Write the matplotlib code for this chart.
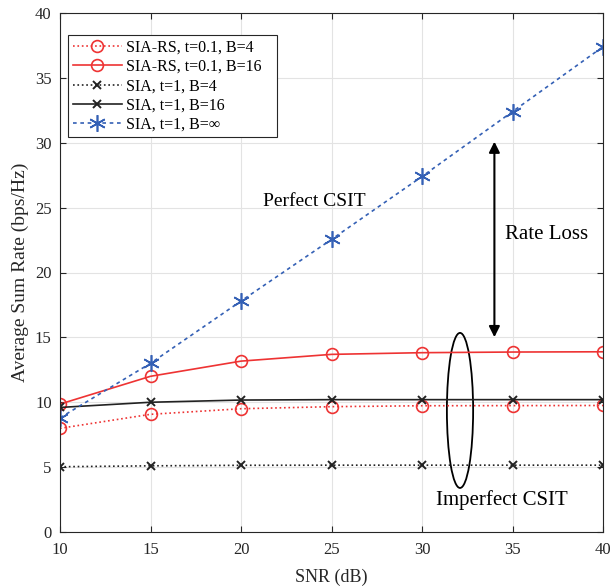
import matplotlib
matplotlib.use("Agg")
import matplotlib.pyplot as plt
from matplotlib.patches import Ellipse
import numpy as np

plt.rcParams['font.family'] = ['Liberation Serif', 'DejaVu Serif']

snr = [10, 15, 20, 25, 30, 35, 40]
rs_b4 = [7.99, 9.07, 9.5, 9.66, 9.73, 9.74, 9.75]
rs_b16 = [9.86, 12.0, 13.17, 13.69, 13.82, 13.87, 13.89]
sia_b4 = [5.03, 5.1, 5.14, 5.15, 5.15, 5.15, 5.15]
sia_b16 = [9.6, 10.0, 10.17, 10.2, 10.2, 10.2, 10.2]
sia_inf = [8.8, 13.0, 17.8, 22.55, 27.4, 32.4, 37.4]

labels = ['SIA-RS, t=0.1, B=4', 'SIA-RS, t=0.1, B=16',
          'SIA, t=1, B=4', 'SIA, t=1, B=16', 'SIA, t=1, B=\u221e']

red = '#ee3333'
blue = '#3460b5'
dark = '#222222'
txt = '#262626'

fig = plt.figure(figsize=(6.1, 5.87), dpi=100)
ax = fig.add_axes([60/610, 55/587, 543/610, 519/587])

ax.plot(snr, rs_b4, ':', color=red, marker='o', ms=8.5, mfc='none', mew=1.2, lw=1.2, label=labels[0])
ax.plot(snr, rs_b16, '-', color=red, marker='o', ms=8.5, mfc='none', mew=1.2, lw=1.2, label=labels[1])
ax.plot(snr, sia_b4, ':', color=dark, marker='x', ms=5.5, mew=1.4, lw=1.2, label=labels[2])
ax.plot(snr, sia_b16, '-', color=dark, marker='x', ms=5.5, mew=1.4, lw=1.2, label=labels[3])
ax.plot(snr, sia_inf, linestyle=(0, (2.2, 2.2)), color=blue, marker=(6, 2, 0), ms=12, mew=1.2,
        lw=1.2, label=labels[4])

ax.set_xlim(10, 40)
ax.set_ylim(0, 40)
ax.set_xticks(snr)
ax.set_yticks(np.arange(0, 41, 5))
ax.grid(True, color='#e3e3e3', lw=0.8)
ax.set_axisbelow(True)
ax.tick_params(direction='in', top=True, right=True, labelsize=12, colors=txt, length=4)
ax.tick_params(axis='y', pad=6)
ax.tick_params(axis='x', pad=7)
for s in ax.spines.values():
    s.set_color(txt)
    s.set_linewidth(0.8)

ax.set_xlabel('SNR (dB)', fontsize=13, color=txt, labelpad=8)
ax.set_ylabel('Average Sum Rate (bps/Hz)', fontsize=14, color=txt, labelpad=4)

leg = ax.legend(loc='upper left', bbox_to_anchor=(8/543, 1 - 22/519, 209/543, 0),
                mode='expand', borderaxespad=0,
                fontsize=11.5, handlelength=3.05, handletextpad=0.3, borderpad=0.3,
                labelspacing=0.2, fancybox=False, framealpha=1, edgecolor=txt)
leg.get_frame().set_linewidth(0.8)

# annotations
ax.annotate('', xy=(34.0, 14.8), xytext=(34.0, 30.3),
            arrowprops=dict(arrowstyle='<|-|>', color='black', lw=1.5, mutation_scale=16))
ax.text(34.6, 22.9, 'Rate Loss', fontsize=15, va='center', ha='left')
ax.text(21.2, 25.5, 'Perfect CSIT', fontsize=14, va='center', ha='left')
ax.text(30.8, 2.45, 'Imperfect CSIT', fontsize=15, va='center', ha='left')
ax.add_patch(Ellipse((32.1, 9.37), 1.45, 11.95, fill=False, ec='black', lw=1.3))

fig.savefig('out.png', dpi=100)
